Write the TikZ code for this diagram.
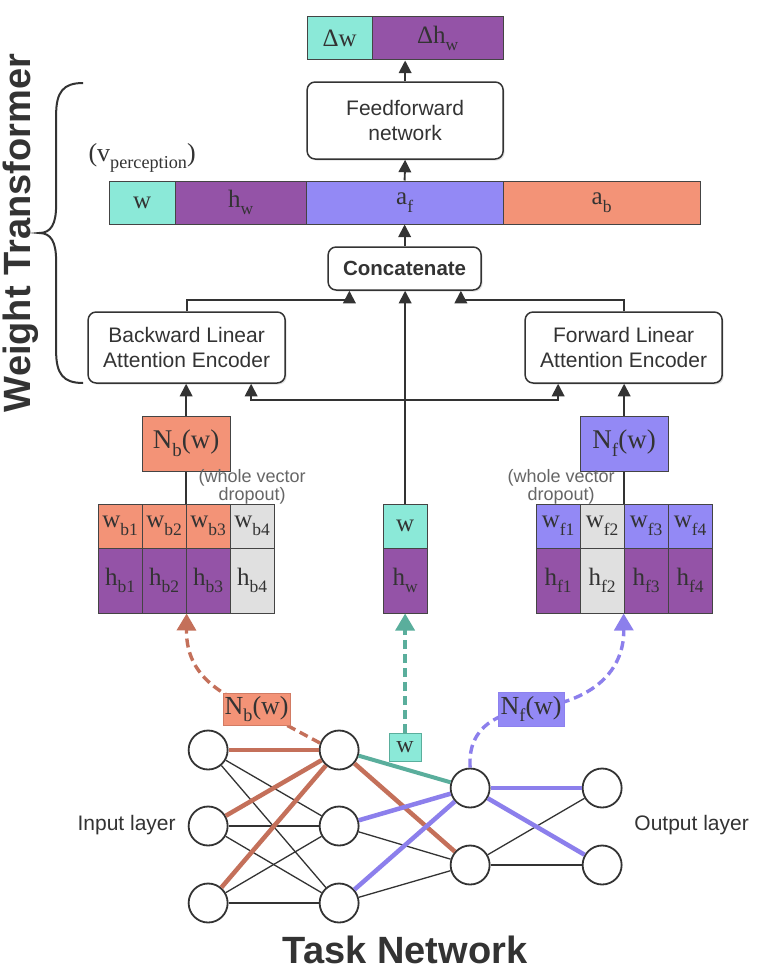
\documentclass[tikz,border=0pt]{standalone}
\usepackage{fontspec}
\usepackage{graphicx}
\setmainfont{Liberation Sans}
\newfontfamily\seriff{Liberation Serif}
\usetikzlibrary{arrows.meta,shadows}
\newcommand\sbs[1]{\raisebox{-0.3em}{\scalebox{0.7}{#1}}}
\definecolor{cTeal}{HTML}{8BE9D8}
\definecolor{cPurp}{HTML}{9453A7}
\definecolor{cBlue}{HTML}{9389F5}
\definecolor{cSalm}{HTML}{F39377}
\definecolor{cGray}{HTML}{E0E0E0}
\definecolor{cLine}{HTML}{333333}
\definecolor{cCell}{HTML}{444444}
\definecolor{cNote}{HTML}{666666}
\definecolor{eOr}{HTML}{C4705A}
\definecolor{eTe}{HTML}{5AAE9C}
\definecolor{ePu}{HTML}{8C7FEC}
\begin{document}
\begin{tikzpicture}[x=1pt,y=-1pt,
  box/.style={draw=cLine, line width=1.5pt, rounded corners=8pt, fill=white, align=center,
    font=\fontsize{21}{25}\selectfont, text=cLine, inner sep=0pt,
    drop shadow={shadow xshift=1.5pt, shadow yshift=-1.5pt, opacity=0.25}},
  cell/.style={draw=cCell, line width=1pt, inner sep=0pt, minimum width=44pt,
    font=\seriff\fontsize{25}{28}\selectfont, text=cLine},
  bar/.style={draw=cCell, line width=1pt, inner sep=0pt, minimum height=43pt,
    font=\seriff\fontsize{25}{28}\selectfont, text=cLine},
  arr/.style={draw=cLine, line width=1.9pt, -{Triangle[width=12.5pt,length=12.5pt]}},
  plain/.style={draw=cLine, line width=1.9pt},
  note/.style={text=cNote, align=center, font=\fontsize{18}{16}\selectfont},
  nn/.style={circle, draw=cLine, line width=1.8pt, fill=white, minimum size=39pt, inner sep=0pt},
  ne/.style={draw=cLine, line width=1.3pt},
  lbl/.style={inner sep=0pt, line width=1pt, font=\seriff\fontsize{26}{28}\selectfont, text=cLine},
  dsh/.style={line width=3.4pt, dash pattern=on 9pt off 5pt},
  layer/.style={text=cLine, font=\fontsize{21}{25}\selectfont}
]
\fill[white] (0,0) rectangle (757,974);

% top output
\node[bar, fill=cTeal, minimum width=65pt] (dw) at (338.5,38.5) {Δw};
\node[bar, fill=cPurp, minimum width=131pt] (dh) at (436.5,38.5) {Δh\sbs{w}};

\node[box, minimum width=196pt, minimum height=77pt] (ff) at (404,120.5) {Feedforward\\network};

% perception bar
\node[bar, fill=cTeal, minimum width=66pt] (pw) at (141,202.5) {w};
\node[bar, fill=cPurp, minimum width=131pt] (ph) at (239.5,202.5) {h\sbs{w}};
\node[bar, fill=cBlue, minimum width=197pt] (pa) at (403.5,202.5) {a\sbs{f}};
\node[bar, fill=cSalm, minimum width=197pt] (pb) at (600.5,202.5) {a\sbs{b}};
\node[text=cLine, font=\seriff\fontsize{26}{28}\selectfont] (vp) at (141,158) {(v\sbs{perception})};

\node[box, minimum width=153pt, minimum height=43pt, font=\bfseries\fontsize{20.5}{25}\selectfont] (cc) at (403.5,268.5) {Concatenate};

\node[box, minimum width=197pt, minimum height=71pt] (be) at (185.5,347.5) {Backward Linear\\Attention Encoder};
\node[box, minimum width=197pt, minimum height=71pt] (fe) at (622.5,347.5) {Forward Linear\\Attention Encoder};

\node[cell, fill=cSalm, minimum width=88pt, minimum height=55pt, font=\seriff\fontsize{27}{28}\selectfont] (nb) at (185,443.5) {N\sbs{b}(w)};
\node[cell, fill=cBlue, minimum width=88pt, minimum height=55pt, font=\seriff\fontsize{27}{28}\selectfont] (nf) at (623,443.5) {N\sbs{f}(w)};

% left cells
\node[cell, fill=cSalm, minimum height=44pt] (wb1) at (119,526) {w\sbs{b1}};
\node[cell, fill=cSalm, minimum height=44pt] (wb2) at (163,526) {w\sbs{b2}};
\node[cell, fill=cSalm, minimum height=44pt] (wb3) at (207,526) {w\sbs{b3}};
\node[cell, fill=cGray, minimum height=44pt] (wb4) at (251,526) {w\sbs{b4}};
\node[cell, fill=cPurp, minimum height=65pt] (hb1) at (119,580.5) {h\sbs{b1}};
\node[cell, fill=cPurp, minimum height=65pt] (hb2) at (163,580.5) {h\sbs{b2}};
\node[cell, fill=cPurp, minimum height=65pt] (hb3) at (207,580.5) {h\sbs{b3}};
\node[cell, fill=cGray, minimum height=65pt] (hb4) at (251,580.5) {h\sbs{b4}};
% middle
\node[cell, fill=cTeal, minimum height=44pt] (wc) at (404,526) {w};
\node[cell, fill=cPurp, minimum height=65pt] (hw) at (404,580.5) {h\sbs{w}};
% right cells
\node[cell, fill=cBlue, minimum height=44pt] (wf1) at (557,526) {w\sbs{f1}};
\node[cell, fill=cGray, minimum height=44pt] (wf2) at (601,526) {w\sbs{f2}};
\node[cell, fill=cBlue, minimum height=44pt] (wf3) at (645,526) {w\sbs{f3}};
\node[cell, fill=cBlue, minimum height=44pt] (wf4) at (689,526) {w\sbs{f4}};
\node[cell, fill=cPurp, minimum height=65pt] (hf1) at (557,580.5) {h\sbs{f1}};
\node[cell, fill=cGray, minimum height=65pt] (hf2) at (601,580.5) {h\sbs{f2}};
\node[cell, fill=cPurp, minimum height=65pt] (hf3) at (645,580.5) {h\sbs{f3}};
\node[cell, fill=cPurp, minimum height=65pt] (hf4) at (689,580.5) {h\sbs{f4}};

\node[note] (nl) at (251,487) {(whole vector\\dropout)};
\node[note] (nr) at (560,487) {(whole vector\\dropout)};

% connectors upper part
\draw[arr] (ff.north) -- (ff.north |- dh.south);
\draw[arr] (pa.north) -- (ff.south);
\draw[arr] (cc.north) -- (pa.south);
\draw[arr] (be.north) -- ++(0,-11) -| ([xshift=22pt]cc.south west);
\draw[arr] (fe.north) -- ++(0,-11) -| ([xshift=-21pt]cc.south east);
\draw[arr] (wc.north) -- (cc.south -| wc.north);
\coordinate (jn) at (404,400);
\draw[arr] (jn) -| ([xshift=64.5pt]be.south);
\draw[arr] (jn) -| ([xshift=-65.5pt]fe.south);
\draw[arr] (nb.north) -- (nb.north |- be.south);
\draw[arr] (nf.north) -- (nf.north |- fe.south);
\draw[plain] (nb.south) -- (nb.south |- wb2.north east);
\draw[plain] (nf.south) -- (nf.south |- wf2.north east);

% task network
\node[nn] (i1) at (207,750) {};
\node[nn] (i2) at (207,826) {};
\node[nn] (i3) at (207,903) {};
\node[nn] (h1) at (338,750) {};
\node[nn] (h2) at (338,826) {};
\node[nn] (h3) at (338,903) {};
\node[nn] (g1) at (469,788) {};
\node[nn] (g2) at (469,865) {};
\node[nn] (o1) at (601,788) {};
\node[nn] (o2) at (601,865) {};

\draw[ne] (i1) -- (h2);
\draw[ne] (i1) -- (h3);
\draw[ne] (i2) -- (h2);
\draw[ne] (i2) -- (h3);
\draw[ne] (i3) -- (h2);
\draw[ne] (i3) -- (h3);
\draw[ne] (h2) -- (g2);
\draw[ne] (h3) -- (g2);
\draw[ne] (g2) -- (o1);
\draw[ne] (g2) -- (o2);
\draw[draw=eOr, line width=4.5pt] (i1) -- (h1);
\draw[draw=eOr, line width=4.5pt] (i2) -- (h1);
\draw[draw=eOr, line width=4.5pt] (i3) -- (h1);
\draw[draw=eOr, line width=4.5pt] (h1) -- (g2);
\draw[draw=eTe, line width=4pt] (h1) -- (g1);
\draw[draw=ePu, line width=4.5pt] (h2) -- (g1);
\draw[draw=ePu, line width=4.5pt] (h3) -- (g1);
\draw[draw=ePu, line width=4.5pt] (g1) -- (o1);
\draw[draw=ePu, line width=4.5pt] (g1) -- (o2);

% dashed feedback arrows
\coordinate (lbp) at (255.5,709);
\coordinate (lfp) at (530,709);
\coordinate (lwp) at (404,747);
\draw[dsh, eOr, -{Triangle[width=19pt,length=17pt]}] (h1.160) -- (lbp) .. controls (205,690) and (185,665) .. (hb2.south east);
\draw[dsh, eTe, -{Triangle[width=19pt,length=17pt]}] (lwp) -- (hw.south);
\draw[dsh, ePu, -{Triangle[width=19pt,length=17pt]}] (g1.north) .. controls (466,725) and (500,712) .. (lfp) .. controls (600,700) and (623,665) .. (hf3.south west);
\node[lbl, fill=cSalm, draw=eOr!70!cSalm, minimum width=67pt, minimum height=32pt] (lb) at (lbp) {N\sbs{b}(w)};
\node[lbl, fill=cBlue, draw=ePu!80!cBlue, minimum width=66pt, minimum height=34pt] (lf) at (lfp) {N\sbs{f}(w)};
\node[lbl, fill=cTeal, draw=eTe, minimum width=32pt, minimum height=28pt, font=\seriff\fontsize{24}{26}\selectfont] (lw) at (lwp) {w};

\node[layer] (inl) at (125.5,825) {Input layer};
\node[layer] (outl) at (690.5,825) {Output layer};
\node[text=cLine, font=\bfseries\fontsize{38}{40}\selectfont] (tn) at (404,950) {Task Network};
\node[text=cLine, font=\bfseries\fontsize{38}{40}\selectfont, rotate=90] (wt) at (20,233) {Weight Transformer};

% brace
\draw[cLine, line width=2pt] (82,83) .. controls (62,83) and (55,92) .. (55,115) -- (55,205)
  .. controls (55,224) and (50,233) .. (38,233)
  .. controls (50,233) and (55,242) .. (55,261) -- (55,351)
  .. controls (55,374) and (62,383) .. (82,383);
\end{tikzpicture}
\end{document}
